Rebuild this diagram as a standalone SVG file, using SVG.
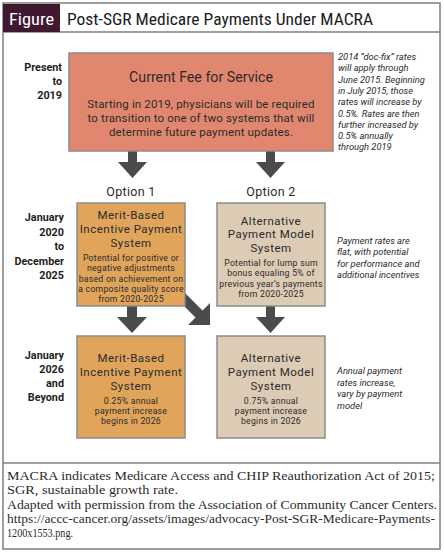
<svg xmlns="http://www.w3.org/2000/svg" width="444" height="554" viewBox="0 0 444 554">
<style>
.frame{fill:none;stroke:#7f7f7f;stroke-width:1.5}
.box{stroke:#8c8c8c;stroke-width:1.5}
.sans{font-family:Roboto,"Liberation Sans",sans-serif;fill:#2b2b2b}
.ttl{font-size:14.2px;text-anchor:middle}
.body{font-size:11.5px;letter-spacing:0.15px;text-anchor:middle}
.opt{font-size:12.5px;letter-spacing:0.3px;text-anchor:middle}
.otl{font-size:11.5px;letter-spacing:0.5px;text-anchor:middle}
.obd{font-size:8.7px;letter-spacing:0.25px;text-anchor:middle}
.lab{font-family:Roboto,"Liberation Sans",sans-serif;font-weight:bold;font-size:10.8px;text-anchor:end;fill:#1e1e1e}
.note{font-family:Roboto,"Liberation Sans",sans-serif;font-style:italic;font-size:9.3px;fill:#2b2b2b}
.foot{font-family:"Liberation Serif","Times New Roman",serif;font-size:12.5px;fill:#2b2b2b}
.arrow{fill:#4b4b4b}
</style>
<rect x="0" y="0" width="444" height="554" fill="#ffffff"/>
<g id="frame">
<rect class="frame" x="3" y="3" width="437" height="546"/>
<line class="frame" x1="3" y1="32" x2="440" y2="32"/>
<line class="frame" x1="3" y1="463" x2="440" y2="463"/>
<rect x="3" y="4" width="57" height="28" fill="#40182f"/>
<text x="31.5" y="25" font-family="'Liberation Sans Narrow','Roboto Condensed','DejaVu Sans Condensed',sans-serif" font-size="17px" fill="#ffffff" text-anchor="middle" textLength="45" lengthAdjust="spacingAndGlyphs">Figure</text>
<text x="67" y="25" font-family="'Liberation Sans Narrow','Roboto Condensed','DejaVu Sans Condensed',sans-serif" font-size="17px" fill="#1a1a1a" textLength="306" lengthAdjust="spacingAndGlyphs">Post-SGR Medicare Payments Under MACRA</text>
</g>
<g id="connectors">
<polygon class="arrow" points="128,151 137,151 137,162 147,162 132.5,178 118,162 128,162"/>
<polygon class="arrow" points="266,151 275,151 275,162 285,162 270.5,178 256,162 266,162"/>
<polygon class="arrow" points="127,306 137,306 137,317 147,317 132,333 117,317 127,317"/>
<polygon class="arrow" points="266,306 275,306 275,317 285,317 270.5,333 256,317 266,317"/>
<polygon class="arrow" points="176,298 183,291 202.5,310.5 210,303 210,325 188,325 195.5,317.5"/>
</g>
<g id="labels">
<text class="lab" x="62" y="71">Present</text>
<text class="lab" x="62" y="85">to</text>
<text class="lab" x="62" y="99">2019</text>
<text class="lab" x="64" y="221">January</text>
<text class="lab" x="64" y="235.5">2020</text>
<text class="lab" x="64" y="250">to</text>
<text class="lab" x="64" y="264.5">December</text>
<text class="lab" x="64" y="279">2025</text>
<text class="lab" x="64" y="359">January</text>
<text class="lab" x="64" y="373">2026</text>
<text class="lab" x="64" y="387">and</text>
<text class="lab" x="64" y="401">Beyond</text>
</g>
<g id="notes">
<text class="note" x="338" y="60">2014 “doc-fix” rates</text>
<text class="note" x="338" y="71.3">will apply through</text>
<text class="note" x="338" y="82.6">June 2015. Beginning</text>
<text class="note" x="338" y="93.9">in July 2015, those</text>
<text class="note" x="338" y="105.2">rates will increase by</text>
<text class="note" x="338" y="116.5">0.5%. Rates are then</text>
<text class="note" x="338" y="127.8">further increased by</text>
<text class="note" x="338" y="139.1">0.5% annually</text>
<text class="note" x="338" y="150.4">through 2019</text>
<text class="note" x="337" y="244">Payment rates are</text>
<text class="note" x="337" y="255.3">flat, with potential</text>
<text class="note" x="337" y="266.6">for performance and</text>
<text class="note" x="337" y="277.9">additional incentives</text>
<text class="note" x="337" y="374">Annual payment</text>
<text class="note" x="337" y="385.5">rates increase,</text>
<text class="note" x="337" y="397">vary by payment</text>
<text class="note" x="337" y="408.5">model</text>
</g>
<g id="node-current">
<rect class="box" x="69" y="53" width="264" height="98" fill="#e2876f"/>
<text class="sans ttl" x="201" y="82">Current Fee for Service</text>
<text class="sans body" x="201" y="107.5">Starting in 2019, physicians will be required</text>
<text class="sans body" x="201" y="121.5">to transition to one of two systems that will</text>
<text class="sans body" x="201" y="135.5">determine future payment updates.</text>
</g>
<g id="option-labels">
<text class="sans opt" x="131" y="196">Option 1</text>
<text class="sans opt" x="271" y="196">Option 2</text>
</g>
<g id="node-mips-2020">
<rect class="box" x="77" y="203" width="108" height="103" fill="#e0a55b"/>
<text class="sans otl" x="131" y="219">Merit-Based</text>
<text class="sans otl" x="131" y="232.8">Incentive Payment</text>
<text class="sans otl" x="131" y="246.6">System</text>
<text class="sans obd" x="131" y="261">Potential for positive or</text>
<text class="sans obd" x="131" y="271.3">negative adjustments</text>
<text class="sans obd" x="131" y="281.6">based on achievement on</text>
<text class="sans obd" x="131" y="291.9">a composite quality score</text>
<text class="sans obd" x="131" y="302.2">from 2020-2025</text>
</g>
<g id="node-apm-2020">
<rect class="box" x="217" y="203" width="108" height="103" fill="#dccbb5"/>
<text class="sans otl" x="271" y="224.5">Alternative</text>
<text class="sans otl" x="271" y="238.3">Payment Model</text>
<text class="sans otl" x="271" y="252.1">System</text>
<text class="sans obd" x="271" y="266">Potential for lump sum</text>
<text class="sans obd" x="271" y="276.3">bonus equaling 5% of</text>
<text class="sans obd" x="271" y="286.6">previous year’s payments</text>
<text class="sans obd" x="271" y="296.9">from 2020-2025</text>
</g>
<g id="node-mips-2026">
<rect class="box" x="77" y="336" width="108" height="102" fill="#e0a55b"/>
<text class="sans otl" x="131" y="362">Merit-Based</text>
<text class="sans otl" x="131" y="375.8">Incentive Payment</text>
<text class="sans otl" x="131" y="389.6">System</text>
<text class="sans obd" x="131" y="403.8">0.25% annual</text>
<text class="sans obd" x="131" y="414.1">payment increase</text>
<text class="sans obd" x="131" y="424.4">begins in 2026</text>
</g>
<g id="node-apm-2026">
<rect class="box" x="217" y="336" width="108" height="102" fill="#dccbb5"/>
<text class="sans otl" x="271" y="362">Alternative</text>
<text class="sans otl" x="271" y="375.8">Payment Model</text>
<text class="sans otl" x="271" y="389.6">System</text>
<text class="sans obd" x="271" y="403.8">0.75% annual</text>
<text class="sans obd" x="271" y="414.1">payment increase</text>
<text class="sans obd" x="271" y="424.4">begins in 2026</text>
</g>
<g id="footer">
<text class="foot" x="7" y="480" textLength="428" lengthAdjust="spacingAndGlyphs">MACRA indicates Medicare Access and CHIP Reauthorization Act of 2015;</text>
<text class="foot" x="7" y="494" textLength="171" lengthAdjust="spacingAndGlyphs">SGR, sustainable growth rate.</text>
<text class="foot" x="7" y="508.5" textLength="430" lengthAdjust="spacingAndGlyphs">Adapted with permission from the Association of Community Cancer Centers.</text>
<text class="foot" x="7" y="522.5" textLength="428" lengthAdjust="spacingAndGlyphs">https://accc-cancer.org/assets/images/advocacy-Post-SGR-Medicare-Payments-</text>
<text class="foot" x="7" y="537" textLength="66" lengthAdjust="spacingAndGlyphs">1200x1553.png.</text>
</g>
</svg>
